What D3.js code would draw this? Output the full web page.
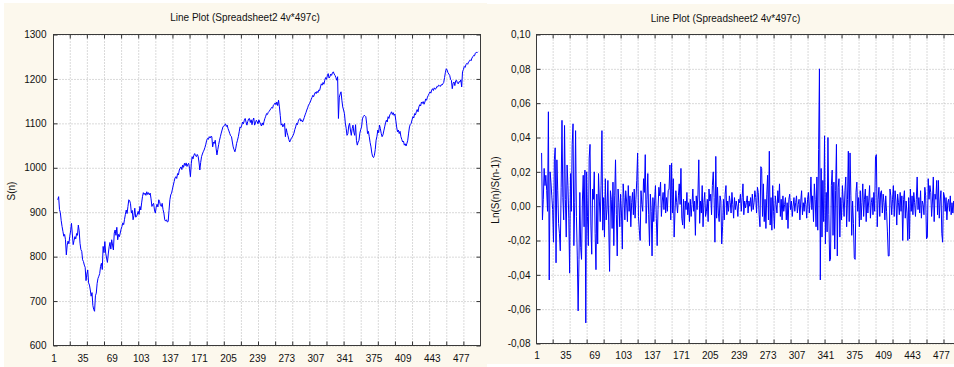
<!DOCTYPE html>
<html>
<head>
<meta charset="utf-8">
<script src="https://cdn.jsdelivr.net/npm/d3@7"></script>
<style>
  body { margin: 0; background: #fff; }
  svg { display: block; font-family: "Liberation Sans", Arial, sans-serif; }
</style>
</head>
<body>
<div id="chart"></div>
<script>
const chartTitle = 'Line Plot (Spreadsheet2 4v*497c)'
const caseDomain = [1, 500]
const caseLabels = [1, 35, 69, 103, 137, 171, 205, 239, 273, 307, 341, 375, 409, 443, 477]
const caseGrid = [20, 40, 60, 80, 100, 120, 140, 160, 180, 200, 220, 240, 260, 280, 300, 320, 340, 360, 380, 400, 420, 440, 460, 480]
const priceTicks = [600, 700, 800, 900, 1000, 1100, 1200, 1300]
const returnTicks = [-0.08, -0.06, -0.04, -0.02, 0, 0.02, 0.04, 0.06, 0.08, 0.10]

// S(n), first value is case 6
const priceStart = 6
const price = [
  928, 935, 906, 899, 881, 868, 857, 846, 850, 838,
  804, 826, 835, 829, 846, 858, 875, 851, 827, 836,
  845, 840, 852, 848, 871, 858, 830, 816, 812, 793,
  789, 781, 776, 746, 761, 770, 741, 736, 725, 711,
  719, 690, 681, 677, 712, 718, 740, 751, 756, 762,
  778, 785, 771, 823, 809, 834, 808, 797, 787, 806,
  822, 832, 817, 838, 826, 815, 853, 860, 848, 866,
  838, 850, 845, 853, 862, 868, 876, 872, 884, 895,
  905, 897, 913, 928, 926, 919, 898, 904, 883, 892,
  909, 889, 890, 896, 902, 895, 913, 905, 921, 935,
  944, 940, 943, 938, 946, 940, 944, 939, 943, 930,
  913, 918, 920, 905, 898, 911, 918, 912, 928, 924,
  915, 913, 920, 906, 898, 883, 880, 883, 878, 879,
  904, 928, 939, 943, 952, 961, 969, 977, 980, 976,
  987, 984, 995, 999, 1002, 996, 1006, 1001, 1010, 1005,
  1011, 1003, 1008, 1010, 998, 980, 1009, 1025, 1020, 1028,
  1032, 1027, 1025, 1030, 1026, 1013, 995, 1012, 1025, 1031,
  1036, 1040, 1046, 1053, 1062, 1066, 1064, 1070, 1067, 1071,
  1070, 1047, 1058, 1055, 1062, 1044, 1029, 1041, 1052, 1062,
  1070, 1078, 1085, 1092, 1094, 1096, 1099, 1093, 1096, 1088,
  1083, 1077, 1072, 1070, 1058, 1047, 1041, 1036, 1044, 1055,
  1062, 1070, 1081, 1092, 1090, 1096, 1103, 1099, 1107, 1111,
  1103, 1096, 1104, 1110, 1111, 1102, 1108, 1097, 1107, 1112,
  1096, 1101, 1107, 1104, 1099, 1108, 1103, 1098, 1094, 1101,
  1096, 1104, 1111, 1116, 1122, 1120, 1125, 1127, 1130, 1133,
  1136, 1134, 1141, 1143, 1146, 1142, 1148, 1140, 1152, 1137,
  1118, 1096, 1099, 1092, 1097, 1100, 1070, 1088, 1079, 1072,
  1064, 1058, 1062, 1067, 1069, 1073, 1078, 1086, 1092, 1100,
  1097, 1104, 1109, 1111, 1105, 1108, 1103, 1107, 1113, 1119,
  1124, 1130, 1135, 1141, 1144, 1148, 1153, 1158, 1163, 1160,
  1166, 1170, 1167, 1172, 1169, 1175, 1174, 1182, 1189, 1186,
  1192, 1188, 1197, 1203, 1199, 1207, 1212, 1202, 1205, 1211,
  1208, 1214, 1216, 1211, 1208, 1203, 1197, 1205, 1111, 1159,
  1166, 1171, 1152, 1137, 1130, 1122, 1101, 1089, 1073, 1077,
  1094, 1100, 1085, 1073, 1088, 1096, 1080, 1073, 1097, 1062,
  1051, 1058, 1062, 1078, 1086, 1092, 1110, 1115, 1118, 1117,
  1115, 1099, 1077, 1082, 1070, 1057, 1047, 1033, 1025, 1023,
  1028, 1041, 1062, 1071, 1085, 1079, 1096, 1088, 1077, 1070,
  1074, 1083, 1092, 1101, 1107, 1103, 1115, 1111, 1119, 1122,
  1126, 1120, 1124, 1118, 1121, 1107, 1092, 1081, 1085, 1077,
  1082, 1070, 1064, 1058, 1060, 1051, 1054, 1049, 1055, 1062,
  1078, 1092, 1098, 1100, 1108, 1115, 1112, 1122, 1119, 1126,
  1131, 1126, 1137, 1142, 1139, 1148, 1145, 1149, 1143, 1148,
  1155, 1152, 1159, 1163, 1167, 1171, 1168, 1175, 1178, 1174,
  1180, 1177, 1178, 1183, 1182, 1186, 1185, 1183, 1187, 1186,
  1189, 1192, 1203, 1215, 1223, 1220, 1214, 1211, 1208, 1199,
  1197, 1178, 1190, 1193, 1185, 1196, 1197, 1191, 1189, 1194,
  1193, 1198, 1182, 1216, 1221, 1228, 1226, 1232, 1235, 1233,
  1238, 1240, 1243, 1241, 1247, 1250, 1253, 1252, 1258, 1260,
  1259, 1261
]

// Ln(S(n)/S(n-1)), first value is case 7
const returnStart = 7
const logReturn = [
  .031, -.008, .004, .022, .012, .018, .009, -.003, .055, -.043,
  .020, .014, .006, -.002, -.021, .027, .034, -.033, .027, .009,
  -.010, -.016, -.026, .011, .050, .005, -.008, .047, .004, -.018,
  .024, .012, -.007, -.039, .019, -.003, .036, .048, -.023, .002,
  .044, -.006, -.029, -.061, -.031, .008, -.024, -.031, .003, .018,
  -.012, .021, -.068, .020, -.006, -.023, .028, .036, -.011, -.028,
  .010, .004, .020, -.016, -.037, .007, -.022, .019, .003, -.009,
  .012, .044, -.014, .005, -.018, .016, -.008, -.002, .015, -.011,
  -.038, .009, .004, -.013, .014, -.023, .006, .027, -.005, -.029,
  .010, .002, -.012, .007, -.004, -.025, .013, .005, -.008, .009,
  .003, -.009, .012, -.003, .006, -.012, .002, .008, -.005, .010,
  -.007, .004, .015, .031, -.006, -.014, -.020, .009, .001, -.003,
  .016, .008, .030, -.010, .004, .019, -.005, -.023, .007, -.003,
  -.029, .005, -.009, .003, .012, -.007, -.023, -.002, .011, .006,
  .014, -.006, .003, .008, -.002, .013, -.004, .005, -.003, .009,
  .010, .024, -.008, .025, -.004, .016, -.018, -.003, .009, .002,
  -.004, .006, .013, .001, .022, -.007, -.011, .004, -.013, .003,
  -.002, .008, -.005, .002, -.009, .004, -.006, .001, .010, -.003,
  .003, -.017, .006, -.002, .007, .027, -.010, .003, -.004, .012,
  -.012, .002, .008, -.006, -.003, .004, -.009, .010, .003, .007,
  -.005, .012, .020, .005, -.021, .029, -.007, .011, -.004, -.009,
  .006, .003, -.022, -.012, .004, -.008, .007, .012, -.005, .003,
  -.003, .006, .002, -.004, .008, .001, -.007, .005, -.002, .003,
  0, -.006, .004, .002, .007, -.003, .005, .013, -.005, .003,
  -.001, .002, .006, -.004, .003, 0, .005, -.003, .007, -.002,
  .002, .009, .005, -.004, .011, .008, -.005, -.012, .023, .022,
  -.006, .013, -.009, .004, -.013, .007, .018, -.008, .032, -.011,
  .005, -.014, .012, -.003, -.013, .006, .001, -.004, .009, .002,
  .013, -.006, .004, -.008, .006, -.003, .001, .005, -.008, .002,
  -.013, .004, .007, -.002, .003, -.006, 0, .005, -.003, .002,
  .006, -.004, .001, .004, -.008, .003, .009, -.005, .002, -.003,
  .005, .001, -.007, .004, .008, -.004, .003, .017, -.002, .006,
  -.009, .013, .004, -.012, .017, -.014, .033, .080, -.043, .022,
  -.018, .015, -.009, .041, -.022, .008, -.015, .040, -.005, -.032,
  -.031, .012, .021, -.017, .014, -.025, .009, .036, -.029, .011,
  .016, -.018, .005, -.008, .012, .003, -.006, .009, .017, -.012,
  .004, .032, -.009, .031, .006, -.017, .003, -.010, -.030, -.031,
  .008, .014, -.003, .005, -.012, .009, -.008, .002, .013, -.006,
  .004, .010, -.009, .006, -.004, .003, .012, -.007, .002, .005,
  -.005, .008, -.003, .029, .030, -.012, .004, .011, -.006, .008,
  .009, -.004, .007, .002, -.008, .006, -.003, -.015, -.029, -.029,
  .010, .006, -.005, .004, .012, -.006, .009, .003, -.011, .007,
  .002, -.005, .008, -.003, .006, -.020, .004, .009, -.007, .003,
  -.004, -.020, .005, -.019, .010, -.003, .006, -.005, .008, .002,
  -.006, .004, .017, -.002, .005, -.004, .009, -.007, .003, .001,
  -.005, .011, .006, -.019, -.018, .016, .004, .012, .008, -.006,
  .003, .017, -.009, .007, .004, .015, -.005, .015, -.007, .003,
  .009, -.016, -.021, .008, .006, -.003, .005, -.008, .002, .004,
  -.003, .006, -.005, .002, -.004, .003, -.006, .004, -.002, -.004,
  .002
]

const commaFormat = d3.formatLocale({
  decimal: ',', thousands: '.', grouping: [3], currency: ['', ''], minus: '-'
}).format('.2f')

class LinePlot {
  constructor(config) {
    Object.assign(this, config)
  }

  render(svg) {
    this.g = svg.append('g')
    this.x = d3.scaleLinear().domain(caseDomain).range([this.left, this.right])
    this.y = d3.scaleLinear().domain(this.yDomain).range([this.bottom, this.top])
    this.drawBackground().drawGrid().drawLine().drawFrame().drawLabels()
  }

  drawBackground() {
    const [bx, by, bw, bh] = this.bg
    this.g.append('rect')
      .attr('x', bx).attr('y', by).attr('width', bw).attr('height', bh)
      .attr('fill', '#fcf8ed')
    this.g.append('rect')
      .attr('x', this.left).attr('y', this.top)
      .attr('width', this.right - this.left).attr('height', this.bottom - this.top)
      .attr('fill', '#fff')
    return this
  }

  drawGrid() {
    const h = this.bottom - this.top
    const w = this.right - this.left
    const vGrid = this.g.append('g')
      .attr('transform', `translate(0,${this.bottom})`)
      .call(d3.axisBottom(this.x).tickValues(caseGrid).tickSize(-h).tickFormat(''))
    const hGrid = this.g.append('g')
      .attr('transform', `translate(${this.left},0)`)
      .call(d3.axisLeft(this.y).tickValues(this.yTicks).tickSize(-w).tickFormat(''))
    for (const grid of [vGrid, hGrid]) {
      grid.select('.domain').remove()
      grid.selectAll('line')
        .attr('stroke', '#b4b4b4')
        .attr('stroke-dasharray', '1,2')
    }
    return this
  }

  drawLine() {
    const line = d3.line()
      .x((d, i) => this.x(this.start + i))
      .y(d => this.y(d))
    this.g.append('path')
      .datum(this.data)
      .attr('fill', 'none')
      .attr('stroke', '#0000ff')
      .attr('stroke-width', 1)
      .attr('d', line)
    return this
  }

  drawFrame() {
    const tick = 4
    const sides = [
      [d3.axisBottom(this.x).tickValues(caseGrid), `translate(0,${this.bottom})`],
      [d3.axisTop(this.x).tickValues(caseGrid), `translate(0,${this.top})`],
      [d3.axisLeft(this.y).tickValues(this.yTicks), `translate(${this.left},0)`],
      [d3.axisRight(this.y).tickValues(this.yTicks), `translate(${this.right},0)`],
    ]
    for (const [axis, tr] of sides) {
      const a = this.g.append('g').attr('transform', tr)
        .call(axis.tickSize(-tick).tickFormat(''))
      a.select('.domain').remove()
      a.selectAll('line').attr('stroke', '#333')
    }
    this.g.append('rect')
      .attr('x', this.left).attr('y', this.top)
      .attr('width', this.right - this.left).attr('height', this.bottom - this.top)
      .attr('fill', 'none')
      .attr('stroke', '#3a3a3a')
    return this
  }

  drawLabels() {
    const xa = this.g.append('g')
      .attr('transform', `translate(0,${this.bottom})`)
      .call(d3.axisBottom(this.x).tickValues(caseLabels).tickSize(0).tickPadding(this.xPad))
    const ya = this.g.append('g')
      .attr('transform', `translate(${this.left},0)`)
      .call(d3.axisLeft(this.y).tickValues(this.yTicks).tickSize(0).tickPadding(this.yPad).tickFormat(this.fmt))
    for (const a of [xa, ya]) {
      a.select('.domain').remove()
      a.selectAll('text')
        .attr('fill', '#111')
        .style('font-size', '10px')
        .style('font-family', '"Liberation Sans", Arial, sans-serif')
    }

    this.g.append('text')
      .attr('x', this.titleX).attr('y', this.titleY)
      .attr('text-anchor', 'middle')
      .attr('font-size', 10).attr('fill', '#111')
      .text(chartTitle)

    this.g.append('text')
      .attr('transform', `translate(${this.yTitleX},${this.yTitleY}) rotate(-90)`)
      .attr('text-anchor', 'middle')
      .attr('font-size', 10).attr('fill', '#111')
      .text(this.yTitle)
    return this
  }
}

const svg = d3.select('#chart').append('svg')
  .attr('width', 954).attr('height', 367)

new LinePlot({
  left: 53.5, right: 480.5, top: 34.5, bottom: 345.5,
  bg: [4, 3, 483, 364],
  yDomain: [600, 1300], yTicks: priceTicks, fmt: d3.format('d'),
  data: price, start: priceStart,
  xPad: 9.5, yPad: 7,
  titleX: 245, titleY: 21, yTitle: 'S(n)', yTitleX: 15, yTitleY: 191
}).render(svg)

new LinePlot({
  left: 536.5, right: 960.5, top: 34.5, bottom: 343.5,
  bg: [487, 4, 467, 360],
  yDomain: [-0.08, 0.10], yTicks: returnTicks, fmt: commaFormat,
  data: logReturn, start: returnStart,
  xPad: 8.5, yPad: 6,
  titleX: 725.5, titleY: 21.5, yTitle: 'Ln(S(n)/S(n-1))', yTitleX: 498.5, yTitleY: 190
}).render(svg)
</script>
</body>
</html>
